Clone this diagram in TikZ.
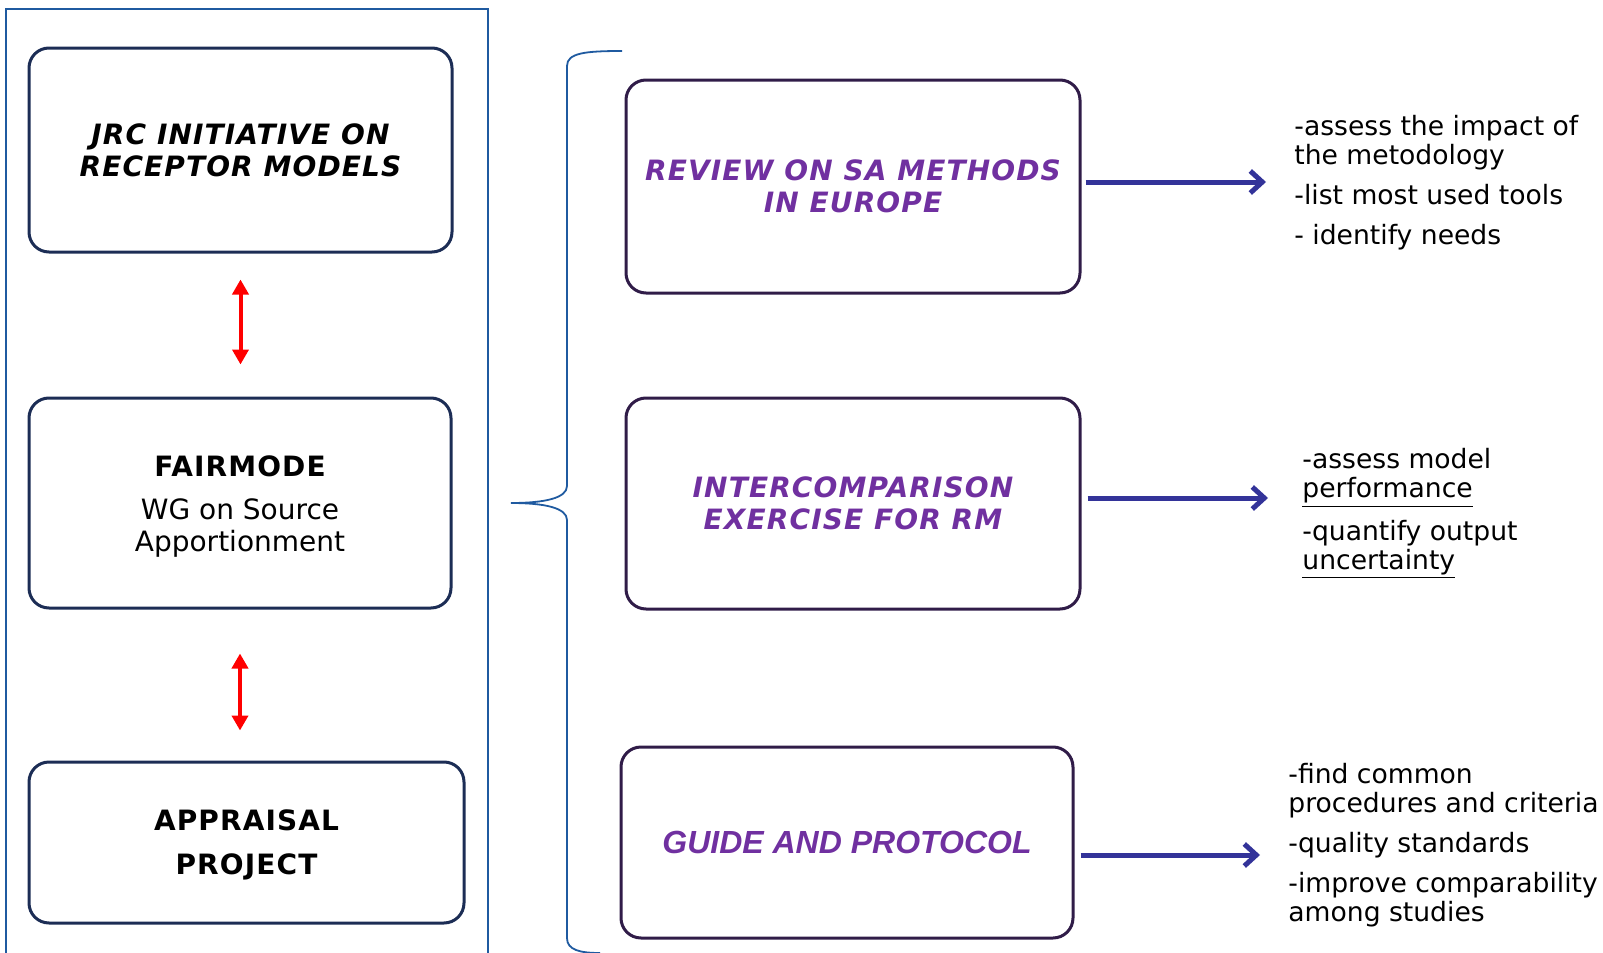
\documentclass[tikz,border=0pt]{standalone}
\usepackage{fontspec}
\setmainfont{DejaVu Sans}
\newfontfamily\arialfont{Liberation Sans}
\usetikzlibrary{positioning}
\usetikzlibrary{arrows.meta}

\definecolor{frameblue}{RGB}{31,90,160}
\definecolor{boxnavy}{RGB}{28,45,85}
\definecolor{boxplum}{RGB}{48,28,72}
\definecolor{titlepurple}{RGB}{112,48,160}
\definecolor{arrowblue}{RGB}{51,51,153}

\newcommand{\headfont}{\fontsize{14}{16}\selectfont\addfontfeature{LetterSpace=4}}

\tikzset{
  leftbox/.style={draw=boxnavy, line width=1.5pt, rounded corners=10pt, align=center, inner sep=0pt},
  rightbox/.style={draw=boxplum, line width=1.5pt, rounded corners=10pt, align=center, inner sep=0pt,
    text=titlepurple, font=\headfont\bfseries\itshape},
  notes/.style={anchor=north west, align=left, inner sep=0pt, font=\fontsize{13.3}{14.5}\selectfont},
  redarrow/.style={red, line width=2pt, {Triangle[length=7.5pt,width=8pt]}-{Triangle[length=7.5pt,width=8pt]}},
  bluearrow/.style={arrowblue, line width=2.5pt, -{Straight Barb[length=6pt,width=11pt]}},
  framebox/.style={frameblue, line width=0.9pt},
  brace/.style={frameblue, line width=0.9pt}
}

\begin{document}
\begin{tikzpicture}[x=0.5pt, y=-0.5pt]
\useasboundingbox (0,0) rectangle (1603,953);

% Outer frame
\draw[framebox] (6,970) -- (6,9) -- (488,9) -- (488,970);

% Left column
\node[leftbox, minimum width=211.5pt, minimum height=102pt,
  font=\headfont\bfseries\itshape] (jrc) at (240.5,150) {JRC INITIATIVE ON\\RECEPTOR MODELS};
\node[leftbox, minimum width=211pt, minimum height=105pt,
  font=\fontsize{14}{16}\selectfont] (fair) at (240,503) {\rule{0pt}{14pt}{\headfont\bfseries FAIRMODE}\\[5.5pt]WG on Source\\Apportionment};
\node[leftbox, minimum width=217.5pt, minimum height=80.5pt,
  font=\headfont\bfseries] (appr) at (246.5,842.5) {\rule{0pt}{13pt}APPRAISAL\\[6pt]PROJECT};

% Red arrows
\draw[redarrow, shorten <=13pt, shorten >=16pt] (jrc.south) -- (jrc.south |- fair.north);
\draw[redarrow, shorten <=22pt, shorten >=15pt] (fair.south) -- (fair.south |- appr.north);

% Brace
\draw[brace] (622,51) .. controls (585,51) and (567,53) .. (567,66) -- (567,486)
  .. controls (567,498) and (545,503) .. (511,503)
  .. controls (545,503) and (567,508) .. (567,520) -- (567,938)
  .. controls (567,950) and (580,953) .. (600,953);

% Right column
\node[rightbox, minimum width=227pt, minimum height=106.5pt] (rev) at (853,186.5) {REVIEW ON SA METHODS\\IN EUROPE};
\node[rightbox, minimum width=227pt, minimum height=105.5pt] (inter) at (853,503.5) {INTERCOMPARISON\\EXERCISE FOR RM};
\node[rightbox, minimum width=226pt, minimum height=95.5pt,
  font=\arialfont\fontsize{16}{18}\selectfont\bfseries\itshape] (guide) at (847,842.5) {GUIDE AND PROTOCOL};

% Notes
\node[notes] (notesrev) at (1294,115) {-assess the impact of\\the metodology\\[5.5pt]-list most used tools\\[5.5pt]- identify needs};
\node[notes] (notesinter) at (1302,448) {-assess model\\\underline{performance}\\[5.5pt]-quantify output\\\underline{uncertainty}};
\node[notes] (notesguide) at (1288,763) {-find common\\procedures and criteria\\[5.5pt]-quality standards\\[5.5pt]-improve comparability\\among studies};

% Blue arrows
\coordinate (revout) at ([yshift=2.25pt]rev.east);
\draw[bluearrow, shorten <=2pt, shorten >=14pt] (revout) -- (revout -| notesrev.west);
\coordinate (interout) at ([yshift=2.75pt]inter.east);
\draw[bluearrow, shorten <=3pt, shorten >=17pt] (interout) -- (interout -| notesinter.west);
\coordinate (guideout) at ([yshift=-6.25pt]guide.east);
\draw[bluearrow, shorten <=3pt, shorten >=14pt] (guideout) -- (guideout -| notesguide.west);

\end{tikzpicture}
\end{document}
